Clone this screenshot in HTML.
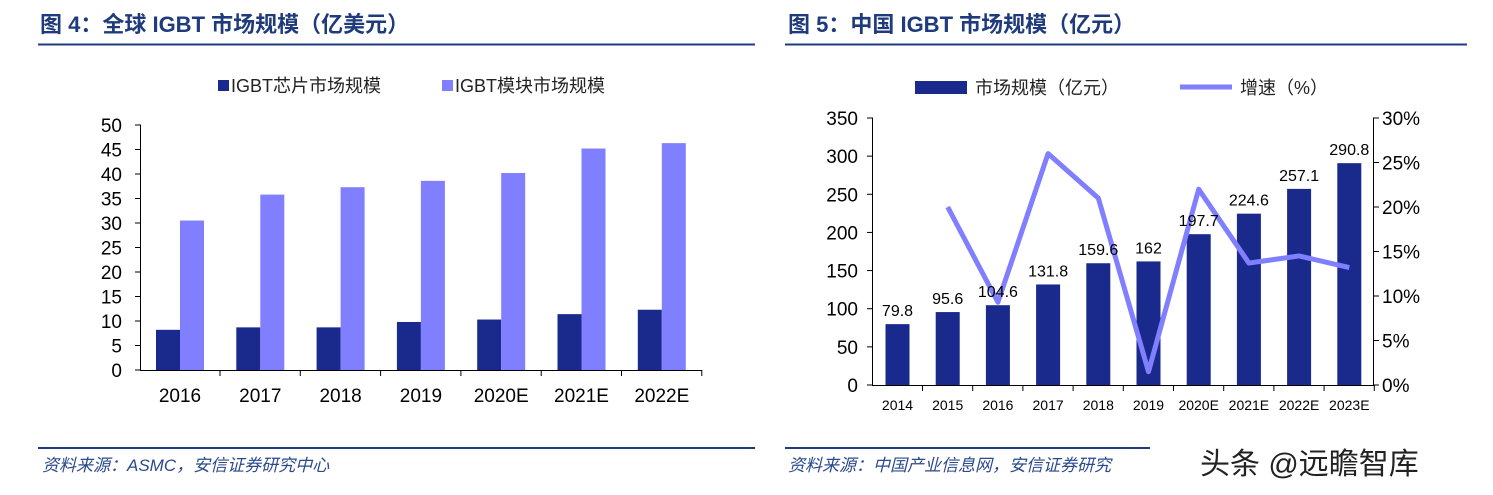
<!DOCTYPE html><html><head><meta charset="utf-8"><style>body{margin:0;background:#fff}svg{display:block}text{font-family:"Liberation Sans","Noto Sans CJK SC",sans-serif}</style></head><body>
<svg width="1493" height="495" xmlns="http://www.w3.org/2000/svg">
<g font-weight="bold" fill="#1f3b7c" font-size="22">
<text x="40" y="32">图 4：全球 IGBT 市场规模（亿美元）</text>
<text x="788" y="32">图 5：中国 IGBT 市场规模（亿元）</text></g>
<line x1="38" y1="44.5" x2="755" y2="44.5" stroke="#1f3b7c" stroke-width="2"/>
<line x1="785" y1="44.5" x2="1467" y2="44.5" stroke="#1f3b7c" stroke-width="2"/>
<line x1="38" y1="448" x2="755" y2="448" stroke="#1f3b7c" stroke-width="2"/>
<line x1="785" y1="448" x2="1150" y2="448" stroke="#1f3b7c" stroke-width="2"/>
<g font-style="italic" fill="#2a4a8c" font-size="17">
<text x="42" y="471">资料来源：ASMC，安信证券研究中心</text>
<text x="788" y="471">资料来源：中国产业信息网，安信证券研究</text></g>
<text x="1200" y="474" font-size="30" fill="#222">头条 @远瞻智库</text>
<rect x="218" y="80" width="11" height="11" fill="#1a2a8c"/><text x="231" y="92" font-size="18" fill="#222">IGBT芯片市场规模</text>
<rect x="442" y="80" width="11" height="11" fill="#7f7fff"/><text x="455" y="92" font-size="18" fill="#222">IGBT模块市场规模</text>
<g id="L"></g>
<rect x="915" y="81" width="52" height="13" fill="#1a2a8c"/><text x="975" y="94" font-size="18" fill="#222">市场规模（亿元）</text>
<line x1="1180" y1="87" x2="1232" y2="87" stroke="#7f7fff" stroke-width="5"/><text x="1240" y="94" font-size="18" fill="#222">增速（%）</text>
<g id="R"></g><g id="RL"></g><g id="RT"></g>
</svg>
<script>
var NS="http://www.w3.org/2000/svg";
function el(p,t,a,tx){var e=document.createElementNS(NS,t);for(var k in a)e.setAttribute(k,a[k]);if(tx!=null)e.textContent=tx;p.appendChild(e);return e;}
var L=document.getElementById("L");
el(L,"line",{x1:140.5,y1:125,x2:140.5,y2:370,stroke:"#000"});
el(L,"line",{x1:140,y1:370.5,x2:702,y2:370.5,stroke:"#000"});
for(var v=0;v<=50;v+=5){var y=370-v*4.9;el(L,"line",{x1:135,y1:y,x2:141,y2:y,stroke:"#000"});el(L,"text",{x:122,y:y+7,"font-size":19,"text-anchor":"end",fill:"#000"},v);}
var c=["2016","2017","2018","2019","2020E","2021E","2022E"],d=[8.2,8.7,8.7,9.8,10.3,11.4,12.3],l=[30.5,35.8,37.3,38.6,40.2,45.2,46.3];
for(var i=0;i<7;i++){var x=180+i*80.3;el(L,"rect",{x:x-24,y:370-d[i]*4.9,width:24,height:d[i]*4.9,fill:"#1a2a8c"});el(L,"rect",{x:x,y:370-l[i]*4.9,width:24,height:l[i]*4.9,fill:"#7f7fff"});el(L,"text",{x:x,y:402,"font-size":19,"text-anchor":"middle",fill:"#000"},c[i]);el(L,"line",{x1:x+40,y1:370,x2:x+40,y2:376,stroke:"#000"});}
var R=document.getElementById("R"),RL=document.getElementById("RL"),RT=document.getElementById("RT");
var b=385,s=267/350;
el(R,"line",{x1:872.5,y1:118,x2:872.5,y2:385,stroke:"#000"});
el(R,"line",{x1:1373.5,y1:118,x2:1373.5,y2:385,stroke:"#000"});
el(R,"line",{x1:872,y1:385.5,x2:1374,y2:385.5,stroke:"#000"});
for(v=0;v<=350;v+=50){y=b-v*s;el(R,"line",{x1:867,y1:y,x2:873,y2:y,stroke:"#000"});el(R,"text",{x:858,y:y+7,"font-size":19,"text-anchor":"end",fill:"#000"},v);}
for(v=0;v<=30;v+=5){y=b-v/30*267;el(R,"line",{x1:1373,y1:y,x2:1379,y2:y,stroke:"#000"});el(R,"text",{x:1382,y:y+7,"font-size":19,fill:"#000"},v+"%");}
var c2=["2014","2015","2016","2017","2018","2019","2020E","2021E","2022E","2023E"],m=[79.8,95.6,104.6,131.8,159.6,162,197.7,224.6,257.1,290.8],g=[null,20,9.3,26,21,1.5,22,13.7,14.5,13.2];
var pts=[];
for(i=0;i<10;i++){x=897.5+i*50.2;el(R,"rect",{x:x-12,y:b-m[i]*s,width:24,height:m[i]*s,fill:"#1a2a8c"});el(RT,"text",{x:x,y:b-m[i]*s-8,"font-size":16,"text-anchor":"middle",fill:"#000"},m[i]);el(R,"text",{x:x,y:410,"font-size":14,"text-anchor":"middle",fill:"#000"},c2[i]);el(R,"line",{x1:x+25,y1:385,x2:x+25,y2:391,stroke:"#000"});if(g[i]!=null)pts.push(x+","+(b-g[i]/30*267));}
el(RL,"polyline",{points:pts.join(" "),fill:"none",stroke:"#7f7fff","stroke-width":5,"stroke-linejoin":"round"});
</script>
</body></html>
